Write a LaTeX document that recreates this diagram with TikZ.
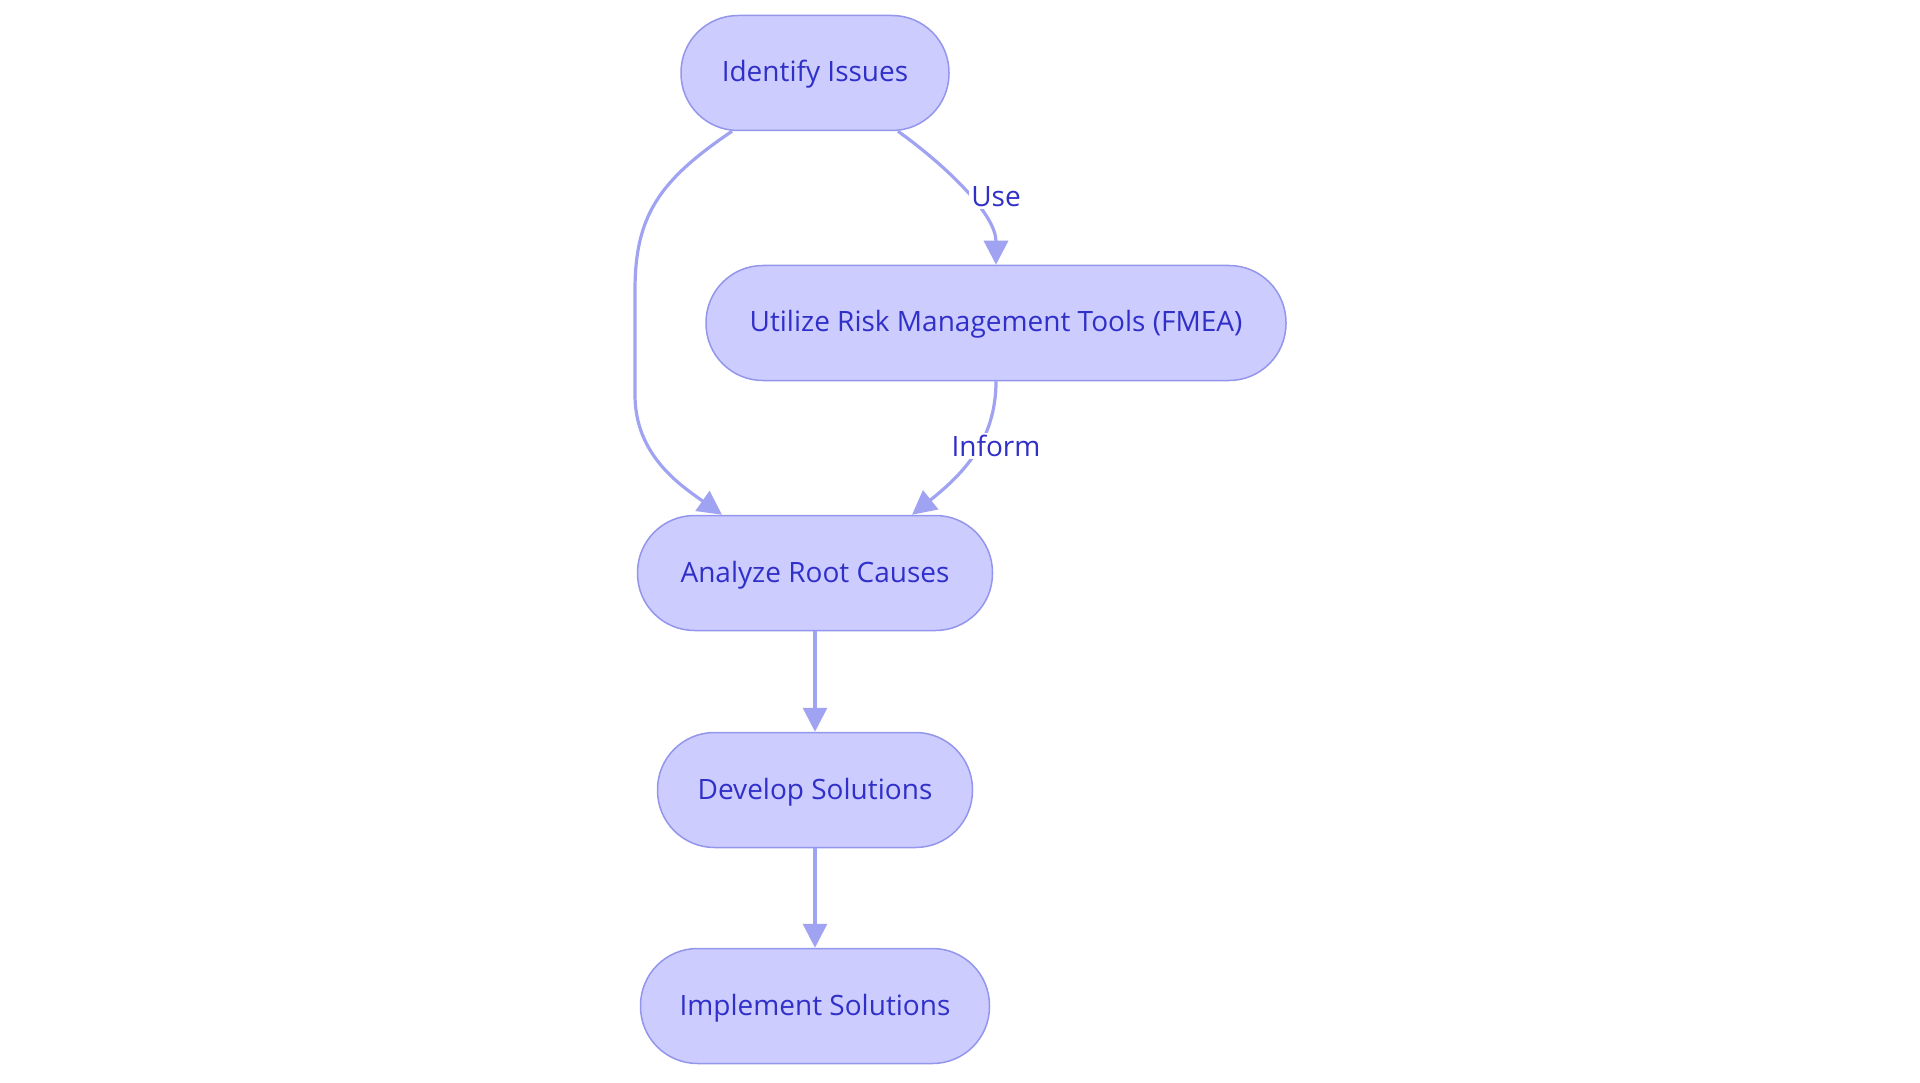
\documentclass[tikz,border=0pt]{standalone}
\usepackage{fontspec}
\setmainfont{Open Sans}
\usetikzlibrary{arrows.meta}

\definecolor{boxfill}{RGB}{204,204,255}
\definecolor{boxline}{RGB}{147,150,235}
\definecolor{edgeline}{RGB}{160,163,242}
\definecolor{txtblue}{RGB}{48,48,200}

\tikzset{>={Triangle[length=24pt,width=24pt]}}
\tikzset{
  stage/.style={draw=boxline, fill=boxfill, line width=1.5pt, rounded corners=57pt,
    minimum height=115pt, text height=18pt, text depth=0pt, text=txtblue,
    font=\fontsize{28}{34}\selectfont},
  flow/.style={->, draw=edgeline, line width=3.2pt},
  tag/.style={fill=white, text=txtblue, inner sep=2pt, font=\fontsize{28}{34}\selectfont}
}

\begin{document}
\begin{tikzpicture}[x=1pt,y=-1pt]
  \useasboundingbox (0,0) rectangle (1920,1083);
  % stages
  \node[stage, minimum width=268pt] (idn) at (815,73) {Identify Issues};
  \node[stage, minimum width=580pt] (utl) at (996,323) {Utilize Risk Management Tools (FMEA)};
  \node[stage, minimum width=355pt] (anl) at (815,573) {Analyze Root Causes};
  \node[stage, minimum width=315pt] (dev) at (815,790) {Develop Solutions};
  \node[stage, minimum width=349pt] (imp) at (815,1006) {Implement Solutions};
  % connectors
  \draw[flow] ([xshift=-83pt]idn.south) .. controls (660,180) and (635,215) .. (635,290)
    -- (635,395) .. controls (635,455) and (680,485) .. ([xshift=-93pt]anl.north);
  \draw[flow] ([xshift=83pt]idn.south) .. controls +(50,36) and +(0,-50) .. (utl.north);
  \draw[flow] (utl.south) .. controls +(0,60) and +(50,-40) .. ([xshift=97pt]anl.north);
  \draw[flow] (anl) -- (dev);
  \draw[flow] (dev) -- (imp);
  % labels
  \node[tag] (use) at (996,197) {Use};
  \node[tag] (inform) at (996,446) {Inform};
\end{tikzpicture}
\end{document}
